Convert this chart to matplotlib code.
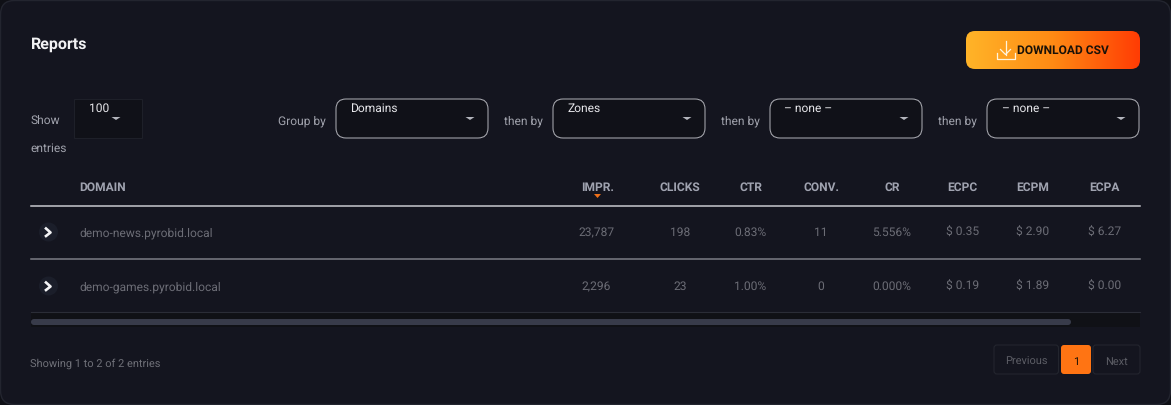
import numpy as np
import matplotlib
matplotlib.use("Agg")
import matplotlib.pyplot as plt
from matplotlib.patches import FancyBboxPatch, Rectangle, Polygon, Circle

plt.rcParams['font.family'] = ['Roboto', 'DejaVu Sans']
plt.rcParams['text.hinting'] = 'none'
plt.rcParams['text.hinting_factor'] = 1

columns = ["DOMAIN", "IMPR.", "CLICKS", "CTR", "CONV.", "CR", "ECPC", "ECPM", "ECPA"]
domains = ["demo-news.pyrobid.local", "demo-games.pyrobid.local"]
impr = ["23,787", "2,296"]
clicks = ["198", "23"]
ctr = ["0.83%", "1.00%"]
conv = ["11", "0"]
cr = ["5.556%", "0.000%"]
ecpc = ["$ 0.35", "$ 0.19"]
ecpm = ["$ 2.90", "$ 1.89"]
ecpa = ["$ 6.27", "$ 0.00"]
selects = ["Domains", "Zones", "– none –", "– none –"]
select_labels = ["Group by", "then by", "then by", "then by"]

BG = "#14151f"
DARK = "#101118"
col_x = [597.5, 680, 750.5, 821, 892, 962.5, 1033, 1104.5]
row_y = [232, 286]
W, H = 1171, 405

fig = plt.figure(figsize=(W / 100, H / 100), dpi=100, facecolor="#0f1016")
ax = fig.add_axes([0, 0, 1, 1])
ax.set_xlim(0, W)
ax.set_ylim(H, 0)
ax.axis("off")


def px(v):
    return v * 0.72


def rbox(x0, y0, x1, y1, r, **kw):
    p = FancyBboxPatch((x0 + r, y0 + r), x1 - x0 - 2 * r, y1 - y0 - 2 * r,
                       boxstyle=f"round,pad={r},rounding_size={r}", **kw)
    ax.add_patch(p)
    return p


def txt(x, y, s, size=12, color="#a0a2ac", ha="left", weight="normal", **kw):
    ax.text(x, y + 0.35 * size, s, fontsize=px(size), color=color, ha=ha, va="baseline",
            weight=weight, **kw)


def caret(x, y, w=4.5, h=3, color="#b4b6bd"):
    ax.add_patch(Polygon([(x - w, y - h / 2), (x + w, y - h / 2), (x, y + h / 2)],
                         closed=True, fc=color, ec="none"))


# panel
rbox(0.5, 0.5, W - 0.5, H - 0.5, 14, fc=BG, ec="#23252f", lw=1)

# title
txt(30.5, 43.5, "Reports", size=16, color="#f2f2f4", weight="bold")

# download button
btn = rbox(966, 31, 1140, 69, 9, fc="none", ec="none")
grad = np.linspace(0, 1, 256)[None, :]
cmap = matplotlib.colors.LinearSegmentedColormap.from_list("b", ["#ffb428", "#ff8a14", "#ff3c04"])
im = ax.imshow(grad, extent=(966, 1140, 69, 31), cmap=cmap, aspect="auto", zorder=2)
im.set_clip_path(btn)
ax.set_xlim(0, W)
ax.set_ylim(H, 0)
txt(1017, 50, "DOWNLOAD CSV", size=12.4, color="#1a1208", weight="bold", zorder=3)
ax.plot([996.5, 996.5, 1014.5, 1014.5], [52.5, 58.5, 58.5, 52.5], color="#fff4dc", lw=0.9, zorder=3)
ax.plot([1005.5, 1005.5], [41, 54.5], color="#fff4dc", lw=0.9, zorder=3)
ax.plot([1000.5, 1005.5, 1010.5], [49.5, 54.5, 49.5], color="#fff4dc", lw=0.9, zorder=3)

# show entries
txt(30.5, 120, "Show", size=12)
txt(30.5, 148, "entries", size=12)
ax.add_patch(Rectangle((74, 99), 68, 39, fc=DARK, ec="#1e2029", lw=0.8))
txt(89, 108, "100", size=12, color="#e6e6ea")
caret(116, 118.5)

# group selects
box_x = [336, 553, 770, 987]
label_right = [325.5, 542.5, 759.5, 976.5]
for x0, r, s, lab in zip(box_x, label_right, selects, select_labels):
    txt(r, 120, lab, size=12, ha="right")
    rbox(x0, 99, x0 + 152, 138, 10, fc=DARK, ec="#a8a9b0", lw=0.75)
    txt(x0 + 15 - 0.5, 108, s, size=12, color="#e6e6ea")
    caret(x0 + 134, 118.5)

# header
txt(79.5, 187, columns[0], size=12, color="#a0a3b0", weight="bold")
for x, c in zip(col_x, columns[1:]):
    txt(x, 187, c, size=12, color="#a0a3b0", ha="center", weight="bold")
caret(597.5, 196, w=3.5, h=4, color="#f07018")

# rules
ax.plot([31, 1140], [205.5, 205.5], color="#c8c8ce", lw=1.1)
ax.plot([31, 1140], [259, 259], color="#7c7d85", lw=1.1)
ax.plot([31, 1140], [311.5, 311.5], color="#2b2d37", lw=0.8)

# rows
rows = list(zip(domains, impr, clicks, ctr, conv, cr, ecpc, ecpm, ecpa))
for y, r in zip(row_y, rows):
    ax.add_patch(Circle((48.5, y), 9.5, fc="#1b1e2a", ec="none"))
    ax.plot([46, 50.5, 46], [y - 3.5, y + 0.5, y + 4], color="#f4f4f6", lw=1.9)
    txt(79.5, y, r[0], size=12, color="#6c6d76")
    for x, v in zip(col_x, r[1:]):
        txt(x - 1 if x == col_x[0] else x, y, v, size=12, color="#6c6d76", ha="center")

# scrollbar
ax.add_patch(Rectangle((31, 312), 1109, 15, fc="#101116", ec="none"))
rbox(31, 319, 1071, 325, 3, fc="#383b4a", ec="none")

# footer
txt(30.5, 363, "Showing 1 to 2 of 2 entries", size=11, color="#6f7078")
rbox(994, 345, 1058.5, 374, 3, fc=BG, ec="#23252e", lw=0.8)
txt(1026, 361, "Previous", size=11.5, color="#5c5d65", ha="center")
rbox(1061, 345, 1091, 374, 3, fc="#ff7413", ec="none")
txt(1076, 361, "1", size=11.5, color="#1c1208", ha="center")
rbox(1093, 345, 1140, 374, 3, fc=BG, ec="#23252e", lw=0.8)
txt(1116.5, 361, "Next", size=11.5, color="#5c5d65", ha="center")

fig.savefig("out.png", dpi=100, facecolor=fig.get_facecolor())
